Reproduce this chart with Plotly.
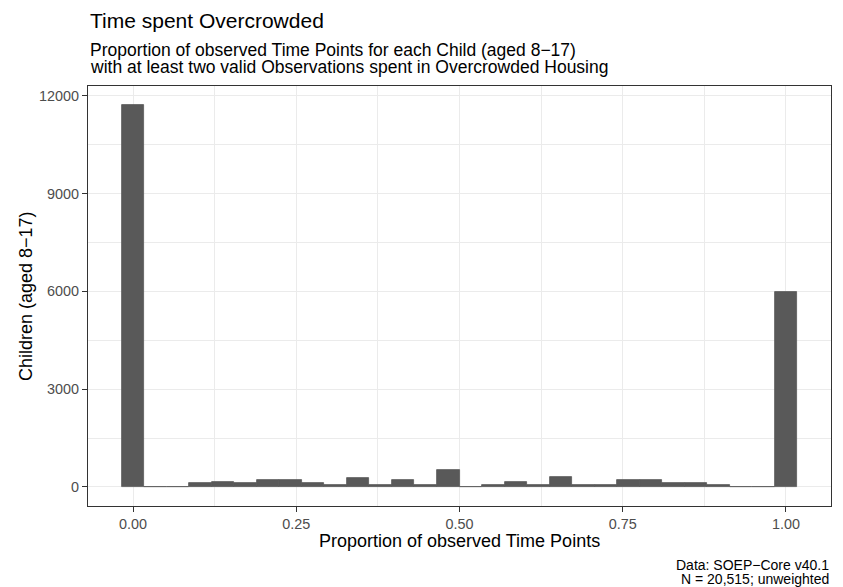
import plotly.graph_objects as go

# ---- data (30 bins over [0, 1]) ----
n_bins = 30
bin_centers = [k / (n_bins - 1) for k in range(n_bins)]
bin_width = 1 / (n_bins - 1)
counts = [11720, 0, 0, 110, 160, 110, 210, 210, 105, 55,
          260, 55, 210, 55, 515, 0, 55, 160, 55, 300,
          55, 55, 210, 210, 105, 105, 55, 0, 0, 5970]
x_tickvals = [0, 0.25, 0.5, 0.75, 1.0]
x_ticktext = ["0.00", "0.25", "0.50", "0.75", "1.00"]
y_tickvals = [0, 3000, 6000, 9000, 12000]
y_ticktext = ["0", "3000", "6000", "9000", "12000"]

title = "Time spent Overcrowded"
subtitle1 = "Proportion of observed Time Points for each Child (aged 8\u221217)"
subtitle2 = "with at least two valid Observations spent in Overcrowded Housing"
x_title = "Proportion of observed Time Points"
y_title = "Children (aged 8\u221217)"
caption1 = "Data: SOEP\u2212Core v40.1"
caption2 = "N = 20,515; unweighted"

FONT = "Liberation Sans, Arial, Helvetica, sans-serif"
BAR = "#595959"
GRID = "#EBEBEB"
BORDER = "#333333"

W, H = 843, 587
L, R, T, B = 88, 12, 86, 81
ph = H - T - B
pw = W - L - R


def py(px):
    return (H - B - px) / ph


def pxx(px):
    return (px - L) / pw


fig = go.Figure()
fig.add_trace(go.Bar(
    x=bin_centers, y=counts, width=[bin_width] * n_bins,
    marker=dict(color=BAR, line=dict(color=BAR, width=0.8)),
    hoverinfo="x+y", showlegend=False,
))

ymax = max(counts)
xlo = -bin_width / 2
xhi = 1 + bin_width / 2
xpad = (xhi - xlo) * 0.05

fig.update_layout(
    width=W, height=H,
    margin=dict(l=L, r=R, t=T, b=B, pad=0),
    paper_bgcolor="white", plot_bgcolor="white",
    font=dict(family=FONT, color="black"),
    bargap=0,
    xaxis=dict(
        range=[xlo - xpad, xhi + xpad],
        tickvals=x_tickvals, ticktext=x_ticktext,
        tickfont=dict(size=14.4, color="#4D4D4D"),
        ticks="outside", ticklen=5, tickwidth=1.1, tickcolor=BORDER,
        showgrid=True, gridcolor=GRID, gridwidth=1.1,
        minor=dict(tickvals=[0.125, 0.375, 0.625, 0.875], showgrid=True,
                   gridcolor=GRID, gridwidth=0.6, ticks=""),
        showline=True, linecolor=BORDER, linewidth=1.1, mirror=True,
        zeroline=False,
    ),
    yaxis=dict(
        range=[-ymax * 0.05, ymax * 1.05],
        tickvals=y_tickvals, ticktext=y_ticktext,
        tickfont=dict(size=14.4, color="#4D4D4D"),
        ticks="outside", ticklen=5, tickwidth=1.1, tickcolor=BORDER,
        showgrid=True, gridcolor=GRID, gridwidth=1.1,
        minor=dict(tickvals=[1500, 4500, 7500, 10500], showgrid=True,
                   gridcolor=GRID, gridwidth=0.6, ticks=""),
        showline=True, linecolor=BORDER, linewidth=1.1, mirror=True,
        zeroline=False,
    ),
)

ann = [
    dict(text=title, x=0, y=py(20.8), xanchor="left", yanchor="middle",
         font=dict(size=21, color="black")),
    dict(text=subtitle1, x=0, y=py(49.5), xanchor="left", yanchor="middle",
         font=dict(size=17.5, color="black")),
    dict(text=subtitle2, x=0, y=py(67.1), xanchor="left", yanchor="middle",
         font=dict(size=17.5, color="black")),
    dict(text=x_title, x=0.5, y=py(540.6), xanchor="center", yanchor="middle",
         font=dict(size=18, color="black")),
    dict(text=y_title, x=pxx(26), y=0.5, xanchor="center", yanchor="middle",
         textangle=-90, font=dict(size=18, color="black")),
    dict(text=caption1, x=1, y=py(564.5), xanchor="right", yanchor="middle",
         align="right", font=dict(size=14, color="black")),
    dict(text=caption2, x=1, y=py(578.5), xanchor="right", yanchor="middle",
         align="right", font=dict(size=14, color="black")),
]
for a in ann:
    a.update(xref="paper", yref="paper", showarrow=False)
fig.update_layout(annotations=ann)

fig.write_html(
    "out.html",
    config={"displayModeBar": False},
    post_script="document.body.style.margin='0';document.body.style.padding='0';",
)
